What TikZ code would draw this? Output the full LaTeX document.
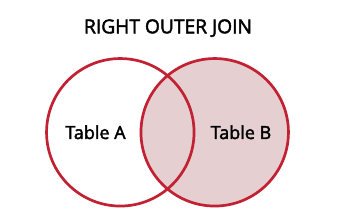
\documentclass[tikz,border=0pt]{standalone}
\usepackage{fontspec}
\setmainfont{Open Sans}[FakeBold=2.2]
\usepackage{tikz}

\definecolor{joinred}{RGB}{193,33,50}
\definecolor{joinpink}{RGB}{229,207,208}

\begin{document}
\begin{tikzpicture}[x=1pt,y=-1pt,
  setcircle/.style={circle, minimum size=147.5pt, inner sep=0pt},
  setedge/.style={joinred, line width=2.7pt},
  setlabel/.style={anchor=base, font=\fontsize{18}{22}\selectfont}]
\useasboundingbox (0,0) rectangle (337,224);
% title
\node[setlabel, font=\fontsize{19.2}{22}\selectfont] (title) at (168,33.3) {RIGHT OUTER JOIN};
% the two tables
\node[setcircle] (tableA) at (120.3,132.3) {};
\node[setcircle, fill=joinpink] (tableB) at (214.7,132.3) {};
\draw[setedge] (tableA.center) circle (73.75);
\draw[setedge] (tableB.center) circle (73.75);
% labels
\node[setlabel] (labelA) at (95.5,139) {Table A};
\node[setlabel] (labelB) at (241,139) {Table B};
\end{tikzpicture}
\end{document}
